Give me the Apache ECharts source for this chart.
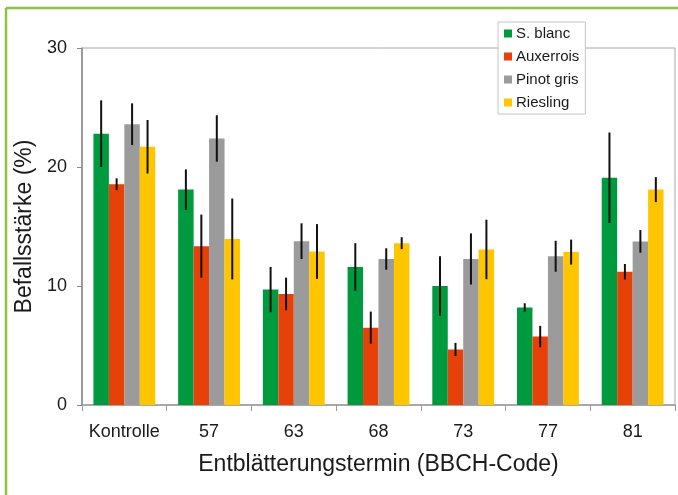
<!DOCTYPE html>
<html><head><meta charset="utf-8">
<script src="https://cdn.jsdelivr.net/npm/echarts@6/dist/echarts.min.js"></script>
<style>html,body{margin:0;padding:0;background:#fff}#c{width:678px;height:495px}</style>
</head><body><div id="c"></div>
<script>
const categories = ['Kontrolle','57','63','68','73','77','81'];
const seriesNames = ['S. blanc','Auxerrois','Pinot gris','Riesling'];
const sBlanc     = [22.8, 18.1, 9.7, 11.6, 10.0, 8.2, 19.1];
const sBlancErr  = [2.8, 1.7, 1.9, 2.0, 2.5, 0.35, 3.8];
const auxerrois    = [18.55, 13.35, 9.33, 6.5, 4.67, 5.75, 11.2];
const auxerroisErr = [0.5, 2.65, 1.37, 1.35, 0.55, 0.9, 0.65];
const pinotGris    = [23.6, 22.4, 13.77, 12.27, 12.27, 12.5, 13.75];
const pinotGrisErr = [1.75, 1.95, 1.5, 0.9, 2.15, 1.3, 0.95];
const riesling     = [21.7, 13.95, 12.9, 13.6, 13.07, 12.85, 18.1];
const rieslingErr  = [2.25, 3.4, 2.3, 0.5, 2.5, 1.05, 1.05];
const yTicks = [0, 10, 20, 30];

const values = [sBlanc, auxerrois, pinotGris, riesling];
const errors = [sBlancErr, auxerroisErr, pinotGrisErr, rieslingErr];
const colors = ['#009a3e', '#e54108', '#9b9b9b', '#ffc600'];
const catGap = 0.27;
const font = 'Liberation Sans, Arial, sans-serif';

const chart = echarts.init(document.getElementById('c'), null, {renderer:'canvas'});
const series = [];
values.forEach((v, i) => {
  series.push({
    name: seriesNames[i], type: 'bar', data: v,
    itemStyle: {color: colors[i]},
    barGap: '0%', barCategoryGap: (catGap*100) + '%',
    animation: false
  });
});
values.forEach((v, i) => {
  series.push({
    type: 'custom', silent: true, animation: false, z: 10,
    data: v.map((val, k) => [k, val - errors[i][k], val + errors[i][k]]),
    encode: {x: 0, y: [1, 2]},
    renderItem: function (params, api) {
      const band = api.size([1, 0])[0];
      const bw = band * (1 - catGap) / 4;
      const lo = api.coord([api.value(0), api.value(1)]);
      const hi = api.coord([api.value(0), api.value(2)]);
      const x = lo[0] + (i - 1.5) * bw;
      return {type: 'line', shape: {x1: x, y1: lo[1], x2: x, y2: hi[1]},
        style: {stroke: '#111', lineWidth: 2}};
    }
  });
});

chart.setOption({
  animation: false,
  textStyle: {fontFamily: font},
  grid: {left: 82, top: 48, right: 3, bottom: 90, show: true, borderColor: '#a8a8a8', borderWidth: 1},
  legend: {
    data: seriesNames, orient: 'vertical', left: 498, top: 22,
    backgroundColor: '#fff', borderColor: '#c4c4c4', borderWidth: 1,
    padding: [4, 6, 4, 6], itemWidth: 8, itemHeight: 8, itemGap: 8, icon: 'rect',
    textStyle: {fontSize: 15, color: '#1a1a1a', fontFamily: font, lineHeight: 15, padding: [0,0,0,-1]}
  },
  xAxis: {
    type: 'category', data: categories,
    axisLine: {lineStyle: {color: '#9a9a9a', width: 1.5}},
    axisTick: {show: true, interval: 0, length: 6, lineStyle: {color: '#9a9a9a'}},
    axisLabel: {interval: 0, fontSize: 18, color: '#1a1a1a', margin: 18, fontFamily: font},
    name: 'Entblätterungstermin (BBCH-Code)', nameLocation: 'middle', nameGap: 48,
    nameTextStyle: {fontSize: 23, color: '#1a1a1a', fontFamily: font}
  },
  yAxis: {
    type: 'value', min: yTicks[0], max: yTicks[yTicks.length-1], interval: 10,
    axisLine: {show: true, lineStyle: {color: '#888', width: 1.5}},
    axisTick: {show: true, length: 5, lineStyle: {color: '#888'}},
    splitLine: {show: false},
    axisLabel: {fontSize: 18, color: '#1a1a1a', margin: 15, fontFamily: font},
    name: 'Befallsstärke (%)', nameLocation: 'middle', nameGap: 44, nameRotate: 90,
    nameTextStyle: {fontSize: 23, color: '#1a1a1a', fontFamily: font}
  },
  graphic: [
    {type: 'line', shape: {x1: 6, y1: 8, x2: 678, y2: 8}, style: {stroke: '#8fc144', lineWidth: 2.5}, z: 100},
    {type: 'line', shape: {x1: 6, y1: 8, x2: 6, y2: 495}, style: {stroke: '#8fc144', lineWidth: 2.5}, z: 100}
  ],
  series: series
});
</script></body></html>
